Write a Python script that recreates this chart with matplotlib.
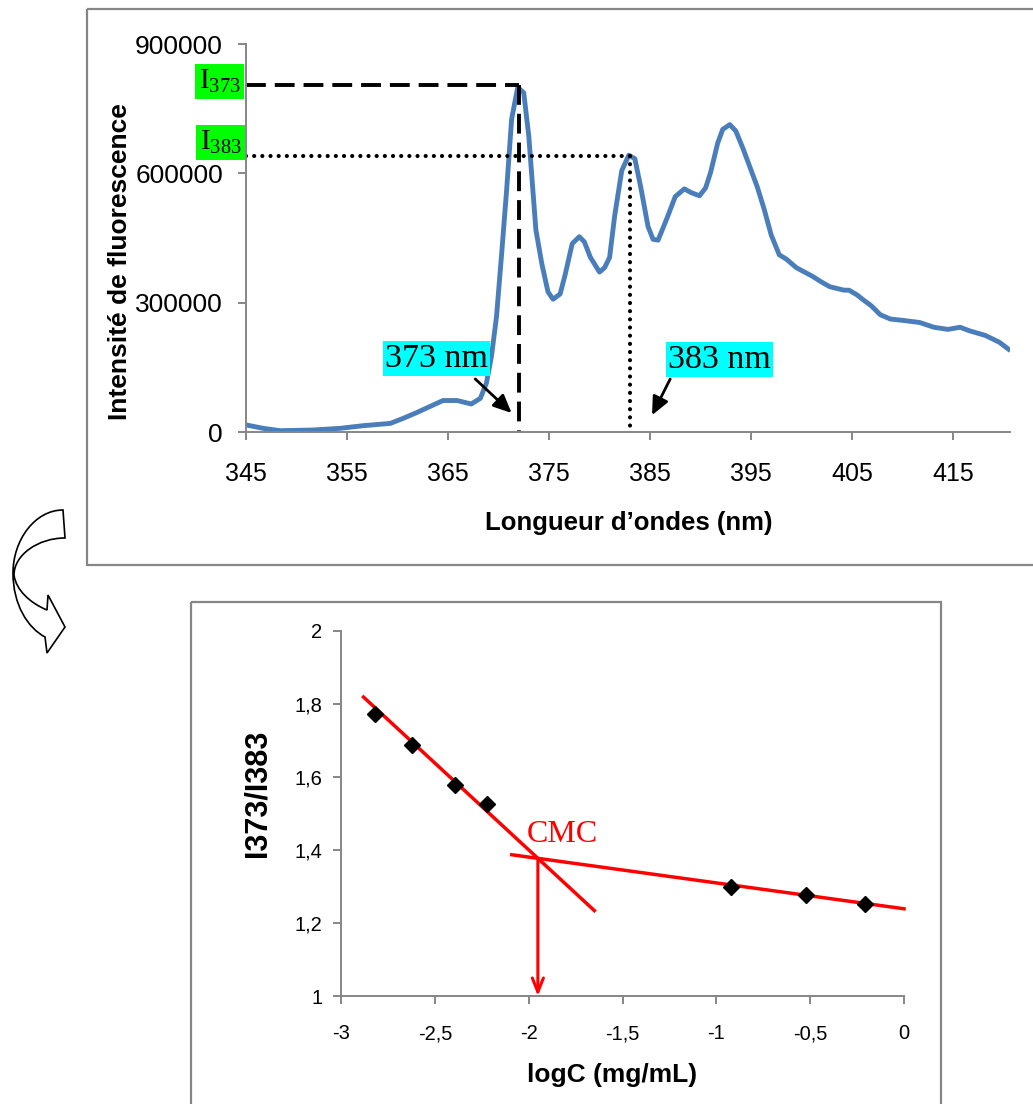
import matplotlib
matplotlib.use("Agg")
import matplotlib.pyplot as plt
from matplotlib.path import Path
from matplotlib.patches import PathPatch, Rectangle

# spectre d'emission
wavelength = [345.1, 346.7, 348.4, 351.6, 354.3, 356.6, 359.3, 360.6, 361.9, 363.2,
              364.5, 365.9, 367.3, 368.2, 368.8, 369.3, 369.8, 370.3, 370.8, 371.3,
              371.9, 372.5, 373.0, 373.7, 374.3, 374.9, 375.4, 376.1, 376.6, 377.3,
              378.0, 378.5, 379.1, 380.0, 380.5, 381.0, 381.5, 382.2, 382.9, 383.5,
              384.1, 384.8, 385.3, 385.8, 386.7, 387.5, 388.4, 389.1, 389.9, 390.5,
              391.0, 391.7, 392.2, 392.9, 393.5, 394.2, 394.9, 395.6, 396.3, 397.0,
              397.8, 398.5, 399.5, 401.1, 401.9, 402.8, 404.2, 404.7, 405.5, 406.2,
              406.9, 407.8, 408.8, 410.0, 411.7, 413.1, 414.5, 415.7, 416.6, 418.2,
              419.6, 420.5]
intensity = [16000, 8500, 3000, 4600, 8500, 14600, 20000, 32000, 45000, 59000,
             73000, 73000, 65000, 78000, 113000, 175000, 267000, 410000, 560000, 726000,
             799000, 787000, 686000, 469000, 389000, 325000, 308000, 320000, 365000, 437000,
             453000, 441000, 405000, 371000, 381000, 405000, 501000, 606000, 642000, 634000,
             566000, 477000, 447000, 445000, 497000, 546000, 564000, 555000, 548000, 566000,
             602000, 670000, 702000, 713000, 698000, 658000, 614000, 570000, 517000, 457000,
             411000, 401000, 381000, 361000, 349000, 337000, 329000, 329000, 318000, 305000,
             293000, 272000, 262000, 259000, 254000, 243000, 238000, 243000, 235000, 224000,
             208000, 192000]
x_ticks_top = [345, 355, 365, 375, 385, 395, 405, 415]
y_ticks_top = [0, 300000, 600000, 900000]

nm_373, I_373 = 372.0, 805000
nm_383, I_383 = 383.0, 640000

# rapport I373/I383
logC = [-2.82, -2.62, -2.39, -2.22, -0.92, -0.52, -0.21]
ratio = [1.772, 1.687, 1.577, 1.527, 1.299, 1.277, 1.253]
fit1_x = [-2.88, -1.65]
fit1_y = [1.819, 1.234]
fit2_x = [-2.09, 0.0]
fit2_y = [1.387, 1.239]
x_ticks_bot = [-3, -2.5, -2, -1.5, -1, -0.5, 0]
x_labels_bot = ["-3", "-2,5", "-2", "-1,5", "-1", "-0,5", "0"]
y_ticks_bot = [1, 1.2, 1.4, 1.6, 1.8, 2]
y_labels_bot = ["1", "1,2", "1,4", "1,6", "1,8", "2"]

plt.rcParams["font.family"] = ["Liberation Sans", "DejaVu Sans"]
plt.rcParams["mathtext.fontset"] = "custom"
plt.rcParams["mathtext.rm"] = "Liberation Serif"

W, H = 1033, 1104
fig = plt.figure(figsize=(W / 100, H / 100), dpi=100)
grey = "#868686"
serif = ["Liberation Serif", "DejaVu Serif"]


def frac(x0, y0, x1, y1):
    return [x0 / W, 1 - y1 / H, (x1 - x0) / W, (y1 - y0) / H]


# fond: cadres + fleche courbe
bg = fig.add_axes([0, 0, 1, 1], zorder=-1)
bg.set_xlim(0, W)
bg.set_ylim(H, 0)
bg.axis("off")
bg.add_patch(Rectangle((87, 9), 1000, 556, fill=False, ec=grey, lw=1.6))
bg.add_patch(Rectangle((191, 602), 750, 520, fill=False, ec=grey, lw=1.6))
verts = [(63, 510), (35, 510), (13, 540), (13, 573),
         (13, 605), (28, 628), (45, 637),
         (47, 653), (65, 627), (48, 595), (47, 610),
         (30, 603), (16, 590), (14, 575),
         (14, 555), (38, 538), (65, 538), (63, 510)]
codes = [Path.MOVETO, Path.CURVE4, Path.CURVE4, Path.CURVE4,
         Path.CURVE4, Path.CURVE4, Path.CURVE4,
         Path.LINETO, Path.LINETO, Path.LINETO, Path.LINETO,
         Path.CURVE4, Path.CURVE4, Path.CURVE4,
         Path.CURVE4, Path.CURVE4, Path.CURVE4, Path.CLOSEPOLY]
bg.add_patch(PathPatch(Path(verts, codes), fc="white", ec="black", lw=1.2))

# ---- spectre ----
ax1 = fig.add_axes(frac(246, 44, 1010, 432))
ax1.plot(wavelength, intensity, color="#4A7EBB", lw=3.5, solid_joinstyle="round")
ax1.set_xlim(345, 345 + 764 / 10.1)
ax1.set_ylim(0, 900000)
ax1.set_xticks(x_ticks_top)
ax1.set_yticks(y_ticks_top)
ax1.set_yticklabels([str(v) for v in y_ticks_top])
for s in ["top", "right"]:
    ax1.spines[s].set_visible(False)
for s in ["left", "bottom"]:
    ax1.spines[s].set_color(grey)
    ax1.spines[s].set_linewidth(1.4)
ax1.tick_params(axis="both", direction="out", color=grey, width=1.4, length=5.5)
ax1.tick_params(axis="y", labelsize=19, pad=11)
ax1.tick_params(axis="x", labelsize=18, pad=16)

ax1.plot([345, nm_373], [I_373, I_373], color="black", lw=2.8, ls=(0, (5.1, 2.3)), clip_on=False)
ax1.plot([nm_373, nm_373], [I_373, 0], color="black", lw=2.8, ls=(0, (5.1, 2.3)), clip_on=False)
ax1.plot([345, nm_383], [I_383, I_383], color="black", lw=3.0, ls=(0, (0.01, 1.95)),
         dash_capstyle="round", clip_on=False)
ax1.plot([nm_383, nm_383], [I_383, 0], color="black", lw=3.0, ls=(0, (0.01, 1.95)),
         dash_capstyle="round", clip_on=False)

ax1.text(342.4, 813000, r"I$_{373}$", family=serif, fontsize=21, ha="center", va="center",
         bbox=dict(boxstyle="square,pad=0.12", fc="#00FF00", ec="none"), clip_on=False)
ax1.text(342.5, 672000, r"I$_{383}$", family=serif, fontsize=21, ha="center", va="center",
         bbox=dict(boxstyle="square,pad=0.12", fc="#00FF00", ec="none"), clip_on=False)
ax1.text(363.9, 170000, "373 nm", family=serif, fontsize=24.5, ha="center", va="center",
         bbox=dict(boxstyle="square,pad=0.06", fc="#00FFFF", ec="none"))
ax1.text(391.9, 168000, "383 nm", family=serif, fontsize=24.5, ha="center", va="center",
         bbox=dict(boxstyle="square,pad=0.06", fc="#00FFFF", ec="none"))
ax1.annotate("", xy=(371.3, 44000), xytext=(367.7, 123000),
             arrowprops=dict(arrowstyle="-|>,head_length=1.1,head_width=0.5", color="black", lw=2,
                             shrinkA=0, shrinkB=0))
ax1.annotate("", xy=(385.2, 39000), xytext=(387.0, 123000),
             arrowprops=dict(arrowstyle="-|>,head_length=1.1,head_width=0.5", color="black", lw=2,
                             shrinkA=0, shrinkB=0))

ax1.set_xlabel("Longueur d\u2019ondes (nm)", fontsize=18.5, fontweight="bold")
ax1.set_ylabel("Intensité de fluorescence", fontsize=19, fontweight="bold")
ax1.xaxis.set_label_coords((629 - 246) / 764, (432 - 523) / 388)
ax1.xaxis.label.set_va("center")
ax1.yaxis.set_label_coords((120 - 246) / 764, (432 - 262) / 388)
ax1.yaxis.label.set_va("center")

# ---- I373/I383 ----
ax2 = fig.add_axes(frac(341, 631, 904, 996))
ax2.plot(logC, ratio, ls="none", marker="D", ms=8, color="black", zorder=3)
ax2.plot(fit1_x, fit1_y, color="red", lw=2.5, clip_on=False)
ax2.plot(fit2_x, fit2_y, color="red", lw=2.5, clip_on=False)
s1 = (fit1_y[1] - fit1_y[0]) / (fit1_x[1] - fit1_x[0])
s2 = (fit2_y[1] - fit2_y[0]) / (fit2_x[1] - fit2_x[0])
cx = (fit2_y[0] - fit1_y[0] + s1 * fit1_x[0] - s2 * fit2_x[0]) / (s1 - s2)
cy = fit1_y[0] + s1 * (cx - fit1_x[0])
ax2.annotate("", xy=(cx, 1.0), xytext=(cx, cy),
             arrowprops=dict(arrowstyle="->,head_length=1.0,head_width=0.4", color="red", lw=2.2,
                             shrinkA=0, shrinkB=0))
ax2.text(cx + 0.13, cy + 0.065, "CMC", family=serif, fontsize=23, color="red", ha="center", va="center")

ax2.set_xlim(-3, 0)
ax2.set_ylim(1, 2)
ax2.set_xticks(x_ticks_bot)
ax2.set_xticklabels(x_labels_bot)
ax2.set_yticks(y_ticks_bot)
ax2.set_yticklabels(y_labels_bot)
for s in ["top", "right"]:
    ax2.spines[s].set_visible(False)
for s in ["left", "bottom"]:
    ax2.spines[s].set_color(grey)
    ax2.spines[s].set_linewidth(1.4)
ax2.tick_params(axis="both", direction="out", color=grey, width=1.4, length=5.5, labelsize=14.5)
ax2.tick_params(axis="y", pad=8)
ax2.tick_params(axis="x", pad=15)
ax2.set_xlabel("logC (mg/mL)", fontsize=19, fontweight="bold")
ax2.set_ylabel("I373/I383", fontsize=22, fontweight="bold")
ax2.xaxis.set_label_coords((612 - 341) / 563, (996 - 1075) / 365)
ax2.xaxis.label.set_va("center")
ax2.yaxis.set_label_coords((258 - 341) / 563, (996 - 793) / 365)
ax2.yaxis.label.set_va("center")

fig.savefig("out.png", dpi=100)
